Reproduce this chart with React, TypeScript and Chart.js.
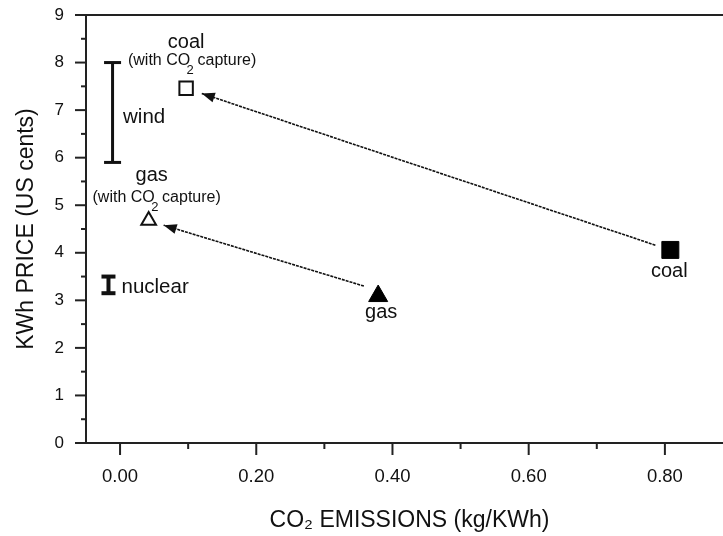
import React, { useEffect, useRef } from "react";
import { Chart, registerables } from "chart.js";

Chart.register(...registerables);

const FONT = '"Liberation Sans", Arial, Helvetica, sans-serif';
const INK = "#111111";

// ---- axis ticks ----
const xTickValues = [0, 0.2, 0.4, 0.6, 0.8];
const xTickLabels = ["0.00", "0.20", "0.40", "0.60", "0.80"];
const xMinorTickValues = [0.1, 0.3, 0.5, 0.7];
const yTickValues = [0, 1, 2, 3, 4, 5, 6, 7, 8, 9];
const yMinorTickValues = [0.5, 1.5, 2.5, 3.5, 4.5, 5.5, 6.5, 7.5, 8.5];

// ---- data: CO2 emissions (kg/KWh) vs KWh price (US cents) ----
const coalCapture = [{ x: 0.097, y: 7.46 }];
const coal = [{ x: 0.808, y: 4.06 }];
const gasCapture = [{ x: 0.042, y: 4.68 }];
const gas = [{ x: 0.379, y: 3.09 }];
const windEmission = -0.011;
const windPrice = [5.9, 8.0];
const nuclearEmission = -0.017;
const nuclearPrice = [3.15, 3.5];
const coalArrow = [{ x: 0.786, y: 4.16 }, { x: 0.12, y: 7.35 }];
const gasArrow = [{ x: 0.358, y: 3.3 }, { x: 0.064, y: 4.58 }];

// ---- annotation texts ----
const annotations = [
  { ds: "coalCapture", text: "coal", dx: 0, dy: -40, size: 20, align: "center" },
  { ds: "coalCapture", text: "(with CO", sub: "2", rest: " capture)", dx: 6, dy: -23, size: 16, align: "center" },
  { ds: "gasCapture", text: "gas", dx: 3, dy: -39, size: 20, align: "center" },
  { ds: "gasCapture", text: "(with CO", sub: "2", rest: " capture)", dx: 8, dy: -18, size: 16, align: "center" },
  { ds: "gas", text: "gas", dx: 3, dy: 22, size: 20, align: "center" },
  { ds: "coal", text: "coal", dx: -1, dy: 27, size: 20, align: "center" },
  { ds: "wind", text: "wind", dx: 10.5, dy: 11, size: 20.5, align: "left", mid: true },
  { ds: "nuclear", text: "nuclear", dx: 13, dy: 8, size: 20.5, align: "left", mid: true },
];

const arrowIds = ["coalArrow", "gasArrow"];

function findDs(chart: any, id: string) {
  return chart.data.datasets.findIndex((d: any) => d.label === id);
}

const decorPlugin = {
  id: "decor",
  afterDatasetsDraw(chart: any) {
    const ctx = chart.ctx as CanvasRenderingContext2D;
    const xs = chart.scales.x;
    const ys = chart.scales.y;
    const a = chart.chartArea;
    ctx.save();
    ctx.strokeStyle = "#222";
    ctx.lineWidth = 2;
    // top frame
    ctx.beginPath();
    ctx.moveTo(a.left - 1, a.top);
    ctx.lineTo(a.right, a.top);
    ctx.stroke();
    const seg = (x1: number, y1: number, x2: number, y2: number) => {
      ctx.beginPath();
      ctx.moveTo(x1, y1);
      ctx.lineTo(x2, y2);
      ctx.stroke();
    };
    yTickValues.forEach((v) => {
      const p = ys.getPixelForValue(v);
      seg(a.left - 11, p, a.left, p);
    });
    yMinorTickValues.forEach((v) => {
      const p = ys.getPixelForValue(v);
      seg(a.left - 5, p, a.left, p);
    });
    xTickValues.forEach((v) => {
      const p = xs.getPixelForValue(v);
      seg(p, a.bottom, p, a.bottom + 12);
    });
    xMinorTickValues.forEach((v) => {
      const p = xs.getPixelForValue(v);
      seg(p, a.bottom, p, a.bottom + 6);
    });

    // arrow heads
    ctx.fillStyle = INK;
    arrowIds.forEach((id) => {
      const idx = findDs(chart, id);
      const pts = chart.getDatasetMeta(idx).data;
      const p0 = pts[pts.length - 2];
      const p1 = pts[pts.length - 1];
      const ang = Math.atan2(p1.y - p0.y, p1.x - p0.x);
      const len = 13;
      const half = 5;
      const bx = p1.x - Math.cos(ang) * len;
      const by = p1.y - Math.sin(ang) * len;
      ctx.beginPath();
      ctx.moveTo(p1.x, p1.y);
      ctx.lineTo(bx + Math.sin(ang) * half, by - Math.cos(ang) * half);
      ctx.lineTo(bx - Math.sin(ang) * half, by + Math.cos(ang) * half);
      ctx.closePath();
      ctx.fill();
    });

    // texts
    ctx.fillStyle = INK;
    ctx.textBaseline = "alphabetic";
    annotations.forEach((an: any) => {
      const idx = findDs(chart, an.ds);
      const pts = chart.getDatasetMeta(idx).data;
      const ax = pts[0].x;
      let ay = pts[0].y;
      if (an.mid) ay = (pts[0].y + pts[pts.length - 1].y) / 2;
      const x = ax + an.dx;
      const y = ay + an.dy;
      ctx.font = `${an.size}px ${FONT}`;
      if (!an.sub) {
        ctx.textAlign = an.align;
        ctx.fillText(an.text, x, y);
        return;
      }
      const subSize = Math.round(an.size * 0.8);
      const w1 = ctx.measureText(an.text).width;
      const w3 = ctx.measureText(an.rest).width;
      ctx.font = `${subSize}px ${FONT}`;
      const w2 = ctx.measureText(an.sub).width;
      const total = w1 + w2 * 0.4 + w3;
      const sx = x - total / 2;
      ctx.textAlign = "left";
      ctx.font = `${an.size}px ${FONT}`;
      ctx.fillText(an.text, sx, y);
      ctx.font = `${subSize}px ${FONT}`;
      ctx.fillText(an.sub, sx + w1 - w2 * 0.5, y + an.size * 0.55);
      ctx.font = `${an.size}px ${FONT}`;
      ctx.fillText(an.rest, sx + w1 + w2 * 0.4, y);
    });
    ctx.restore();
  },
};

export default function App() {
  const ref = useRef<HTMLCanvasElement | null>(null);
  useEffect(() => {
    if (!ref.current) return;
    const chart = new Chart(ref.current, {
      type: "scatter",
      data: {
        datasets: [
          {
            label: "coalArrow",
            data: coalArrow,
            showLine: true,
            borderColor: INK,
            borderWidth: 1.6,
            borderDash: [3, 1],
            pointRadius: 0,
          } as any,
          {
            label: "gasArrow",
            data: gasArrow,
            showLine: true,
            borderColor: INK,
            borderWidth: 1.6,
            borderDash: [3, 1],
            pointRadius: 0,
          },
          {
            label: "wind",
            data: windPrice.map((p) => ({ x: windEmission, y: p })),
            showLine: true,
            borderColor: INK,
            borderWidth: 3,
            pointStyle: "line",
            pointRadius: 8.5,
            pointBorderWidth: 3,
            pointBorderColor: INK,
          },
          {
            label: "nuclear",
            data: nuclearPrice.map((p) => ({ x: nuclearEmission, y: p })),
            showLine: true,
            borderColor: INK,
            borderWidth: 4,
            pointStyle: "line",
            pointRadius: 7,
            pointBorderWidth: 4,
            pointBorderColor: INK,
          },
          {
            label: "coalCapture",
            data: coalCapture,
            pointStyle: "rect",
            pointRadius: 9.5,
            pointBorderWidth: 2,
            pointBorderColor: INK,
            pointBackgroundColor: "#ffffff",
          },
          {
            label: "coal",
            data: coal,
            pointStyle: "rect",
            pointRadius: 12,
            pointBorderWidth: 1,
            pointBorderColor: "#000",
            pointBackgroundColor: "#000",
          },
          {
            label: "gasCapture",
            data: gasCapture,
            pointStyle: "triangle",
            pointRadius: 8.5,
            pointBorderWidth: 2,
            pointBorderColor: INK,
            pointBackgroundColor: "#ffffff",
          },
          {
            label: "gas",
            data: gas,
            pointStyle: "triangle",
            pointRadius: 11,
            pointBorderWidth: 1,
            pointBorderColor: "#000",
            pointBackgroundColor: "#000",
          },
        ],
      },
      options: {
        responsive: false,
        animation: false,
        layout: { autoPadding: false, padding: { top: 15, right: 0, left: 0, bottom: 0 } },
        plugins: { legend: { display: false }, tooltip: { enabled: false } },
        scales: {
          x: {
            type: "linear",
            min: -0.05,
            max: 0.9,
            afterBuildTicks: (s: any) => {
              s.ticks = xTickValues.map((v) => ({ value: v }));
            },
            afterFit: (s: any) => {
              s.height = 93;
              s.paddingLeft = 0;
              s.paddingRight = 0;
            },
            ticks: {
              autoSkip: false,
              maxRotation: 0,
              padding: 23,
              color: INK,
              font: { family: FONT, size: 18.5 },
              callback: (v: any) => {
                const i = xTickValues.indexOf(Number(v));
                return i >= 0 ? xTickLabels[i] : "";
              },
            },
            grid: { display: false, drawTicks: false, tickLength: 0 },
            border: { display: true, color: "#222", width: 2 },
            title: {
              display: true,
              text: "CO₂ EMISSIONS (kg/KWh)",
              color: INK,
              font: { family: FONT, size: 23 },
              padding: { top: 0, bottom: 2 },
            },
          },
          y: {
            type: "linear",
            min: 0,
            max: 9,
            afterBuildTicks: (s: any) => {
              s.ticks = yTickValues.map((v) => ({ value: v }));
            },
            afterFit: (s: any) => {
              s.width = 86;
              s.paddingTop = 0;
              s.paddingBottom = 0;
            },
            ticks: {
              padding: 22,
              color: INK,
              font: { family: FONT, size: 17 },
              callback: (v: any) => String(v),
            },
            grid: { display: false, drawTicks: false, tickLength: 0 },
            border: { display: true, color: "#222", width: 2 },
            title: {
              display: true,
              text: "KWh PRICE (US cents)",
              color: INK,
              font: { family: FONT, size: 23 },
              padding: { top: 13, bottom: 0 },
            },
          },
        },
      },
      plugins: [decorPlugin],
    });
    return () => chart.destroy();
  }, []);

  return (
    <div
      style={{
        position: "fixed",
        left: 0,
        top: 0,
        width: 723,
        height: 536,
        overflow: "hidden",
        background: "#fff",
      }}
    >
      <canvas ref={ref} width={733} height={536} style={{ display: "block", width: 733, height: 536 }} />
    </div>
  );
}
